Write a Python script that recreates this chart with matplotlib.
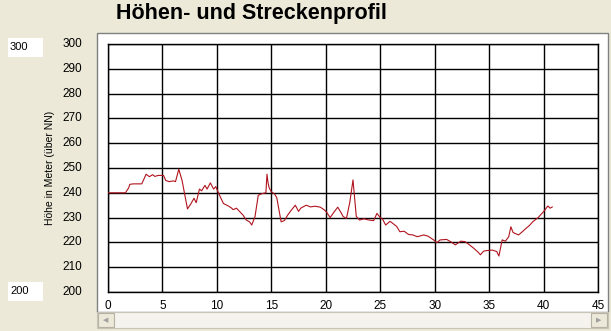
import matplotlib
matplotlib.use("Agg")
import matplotlib.pyplot as plt
from matplotlib.patches import Rectangle

# ---- data (km, m) ----
distance_km = [0, 1.6, 1.9, 2.0, 2.3, 3.1, 3.5, 3.8, 4.1, 4.3, 4.6, 5.1, 5.3, 5.6, 6.0, 6.2,
               6.5, 6.8, 7.3, 7.6, 7.9, 8.1, 8.4, 8.6, 8.9, 9.1, 9.4, 9.7, 9.9, 10.1, 10.4,
               10.6, 11.0, 11.3, 11.5, 11.8, 12.1, 12.4, 12.7, 13.0, 13.2, 13.5, 13.8, 14.1,
               14.5, 14.6, 14.7, 14.8, 15.0, 15.3, 15.5, 15.9, 16.2, 16.5, 16.8, 17.2, 17.5,
               17.7, 18.2, 18.6, 19.0, 19.5, 19.9, 20.1, 20.4, 20.8, 21.1, 21.4, 21.6, 21.9,
               22.2, 22.5, 22.8, 23.1, 23.5, 24.0, 24.4, 24.7, 25.0, 25.2, 25.5, 25.9, 26.2,
               26.5, 26.8, 27.2, 27.6, 28.0, 28.4, 29.0, 29.4, 29.9, 30.2, 30.5, 31.1, 31.5,
               31.9, 32.4, 32.8, 33.2, 33.6, 34.0, 34.2, 34.5, 34.8, 35.3, 35.7, 35.9, 36.2,
               36.5, 36.8, 37.0, 37.2, 37.4, 37.7, 38.1, 38.4, 38.7, 39.0, 39.5, 40.0, 40.4,
               40.6, 40.8]
elevation_m = [240, 240, 242, 243.4, 243.6, 243.6, 247.5, 246.5, 247.3, 246.6, 247, 247, 245,
               244.5, 244.8, 244.5, 249.5, 245, 233.5, 235.5, 237.8, 236, 241.5, 240.8, 243,
               241.5, 244, 241.5, 242.5, 240.4, 237.5, 235.7, 234.8, 234, 233.2, 233.8, 232.4,
               231, 229, 228.3, 227, 230.4, 239, 239.6, 240, 247.5, 244, 242, 240.4, 239.5,
               238, 228.3, 228.8, 231, 232.8, 235, 232.5, 233.8, 235, 234.3, 234.6, 234.2, 233,
               232, 230, 232.5, 234.2, 232, 230.4, 229.7, 236, 245.2, 230.5, 229, 229.5, 229,
               228.8, 231.7, 230, 229.5, 227, 228.5, 227.5, 226.5, 224.3, 224.5, 223.2, 223,
               222.3, 223, 222.5, 221, 219.9, 221, 221.2, 220.2, 219, 220.5, 220.3, 219, 217.6,
               216, 215, 216.5, 216.7, 216.9, 216.3, 214.5, 221, 220.5, 222.3, 226.3, 224,
               223.6, 223, 224.5, 225.7, 226.8, 228.3, 230, 232.4, 234.7, 233.8, 234.3]

x_ticks = [0, 5, 10, 15, 20, 25, 30, 35, 40, 45]
y_ticks = [200, 210, 220, 230, 240, 250, 260, 270, 280, 290, 300]
title = "Höhen- und Streckenprofil"
y_label = "Höhe in Meter (über NN)"
box_max = "300"
box_min = "200"

W, H = 611, 331
BG = "#ECE9D8"
fig = plt.figure(figsize=(W / 100, H / 100), dpi=100, facecolor=BG)

def fx(px):
    return px / W

def fy(py):
    return 1 - py / H

font = ["Liberation Sans Narrow", "Liberation Sans", "DejaVu Sans"]

# white chart panel with sunken border
fig.patches.append(Rectangle((fx(97), fy(312)), fx(511), 279 / H, transform=fig.transFigure,
                             facecolor="white", edgecolor="#808080", lw=1.0, zorder=0))
# scrollbar
fig.patches.append(Rectangle((fx(97), fy(328)), fx(511), 16 / H, transform=fig.transFigure,
                             facecolor="#F4F3EE", edgecolor="#C8C5B8", lw=0.8, zorder=0))
for bx in (98, 591):
    fig.patches.append(Rectangle((fx(bx), fy(327)), fx(16), 14 / H, transform=fig.transFigure,
                                 facecolor="#ECE9D8", edgecolor="#B5B2A5", lw=0.8, zorder=1))
fig.text(fx(106), fy(320), "\u25C0", fontsize=5, color="#A0A0A0", ha="center", va="center")
fig.text(fx(599), fy(320), "\u25B6", fontsize=5, color="#A0A0A0", ha="center", va="center")

# input boxes
for ytop, txt in ((38, box_max), (282, box_min)):
    fig.patches.append(Rectangle((fx(8), fy(ytop + 19)), fx(35), 19 / H, transform=fig.transFigure,
                                 facecolor="white", edgecolor="none", zorder=1))
    fig.text(fx(10), fy(ytop + 9.5), txt, fontsize=8, family=font, ha="left", va="center")

# title
fig.text(fx(251), fy(14), title, fontsize=15.5, fontweight="bold", family=["Liberation Sans", "DejaVu Sans"],
         ha="center", va="center")

ax = fig.add_axes([fx(108), fy(292), fx(490), 248 / H], zorder=5)
ax.set_facecolor("white")
ax.plot(distance_km, elevation_m, color="#B0141E", lw=0.8, zorder=3)
ax.set_xlim(0, 45)
ax.set_ylim(200, 300)
ax.set_xticks(x_ticks)
ax.set_yticks(y_ticks)
ax.grid(True, color="black", lw=1.0, zorder=1)
for s in ax.spines.values():
    s.set_color("black")
    s.set_linewidth(1.0)
ax.tick_params(length=0)
ax.set_xticklabels([str(v) for v in x_ticks], fontsize=8.5, family=font)
ax.set_yticklabels([])
ax.tick_params(axis="x", pad=6)

# y tick labels placed outside the white panel
for v in y_ticks:
    py = 292 - (v - 200) * 2.48
    fig.text(fx(82), fy(py), str(v), fontsize=8.5, family=font, ha="right", va="center")

fig.text(fx(50), fy(168), y_label, fontsize=7.5, family=font, rotation=90, ha="center", va="center")

fig.savefig("out.png", dpi=100, facecolor=BG)
